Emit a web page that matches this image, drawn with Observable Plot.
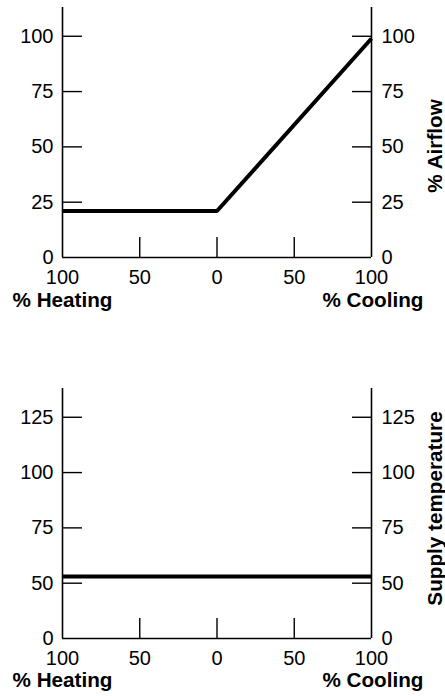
<!DOCTYPE html>
<html>
<head>
<meta charset="utf-8">
<script src="https://cdn.jsdelivr.net/npm/d3@7"></script>
<script src="https://cdn.jsdelivr.net/npm/@observablehq/plot@0.6"></script>
<style>
  html, body { margin: 0; padding: 0; background: #fff; }
  #wrap { position: relative; width: 445px; height: 696px; overflow: hidden; background: #fff; }
  #wrap svg { position: absolute; left: 0; display: block; }
</style>
</head>
<body>
<div id="wrap"></div>
<script>
// Signed x position: negative = % heating, positive = % cooling
const xTickValues = [-100, -50, 0, 50, 100];
const xTickMarks = [-50, 0, 50];
const heatingLabel = "% Heating";
const coolingLabel = "% Cooling";

// Top panel: % airflow
const airflowPos = [-100, 0, 100];
const airflowPct = [21, 21, 99];
const airflowTickLabels = [0, 25, 50, 75, 100];
const airflowTickMarks = [25, 50, 75, 100];
const airflowTitle = "% Airflow";

// Bottom panel: supply temperature (axis broken between 0 and 50)
const supplyPos = [-100, 100];
const supplyTemp = [53, 53];
const supplyTickLabels = [0, 50, 75, 100, 125];
const supplyTickMarks = [50, 75, 100, 125];
const supplyTitle = "Supply temperature";

const W = 445;
const font = "'Liberation Sans', Arial, Helvetica, sans-serif";
const tickFont = 20;
const titleFont = 20.7;

function panel({rows, yScale, tickLabels, tickMarks, title, height, mt, mb, titleDy}) {
  const ml = 62, mr = 74;
  return Plot.plot({
    width: W,
    height,
    marginTop: mt,
    marginBottom: mb,
    marginLeft: ml,
    marginRight: mr,
    style: {fontFamily: font, fontSize: tickFont + "px", color: "#000", background: "#fff", overflow: "visible"},
    x: {domain: [-100, 100]},
    y: yScale,
    marks: [
      // axis frame lines
      Plot.ruleX([-100, 100], {stroke: "#000", strokeWidth: 1.6}),
      Plot.ruleY([0], {stroke: "#000", strokeWidth: 1.6}),
      // inward ticks
      Plot.axisY(tickMarks, {anchor: "left", tickSize: -20, tickFormat: () => "", strokeWidth: 1.4, label: null}),
      Plot.axisY(tickMarks, {anchor: "right", tickSize: -20, tickFormat: () => "", strokeWidth: 1.4, label: null}),
      Plot.axisX(xTickMarks, {anchor: "bottom", tickSize: -20, tickFormat: () => "", strokeWidth: 1.4, label: null}),
      // tick labels
      Plot.axisY(tickLabels, {anchor: "left", tickSize: 0, tickPadding: 9, label: null, fill: "#000"}),
      Plot.axisY(tickLabels, {anchor: "right", tickSize: 0, tickPadding: 10, label: null, fill: "#000"}),
      Plot.axisX(xTickValues, {anchor: "bottom", tickSize: 0, tickPadding: 12, tickFormat: (d) => Math.abs(d), label: null, fill: "#000"}),
      // data line
      Plot.line(rows, {x: "pos", y: "val", stroke: "#000", strokeWidth: 4, strokeLinecap: "butt", strokeLinejoin: "miter"}),
      // titles
      Plot.text([heatingLabel], {frameAnchor: "bottom-left", textAnchor: "start", dx: -50, dy: titleDy, fontWeight: "bold", fontSize: titleFont, fill: "#000"}),
      Plot.text([coolingLabel], {frameAnchor: "bottom-right", textAnchor: "end", dx: 52, dy: titleDy, fontWeight: "bold", fontSize: titleFont, fill: "#000"}),
      Plot.text([title.text], {frameAnchor: "right", rotate: -90, textAnchor: "middle", dx: 64, dy: title.dy, fontWeight: "bold", fontSize: titleFont, fill: "#000"})
    ]
  });
}

const wrap = document.getElementById("wrap");

// Top panel
const h1 = 330, mt1 = 7, mb1 = 73;
const airRows = airflowPos.map((p, i) => ({pos: p, val: airflowPct[i]}));
const svg1 = panel({
  rows: airRows,
  yScale: {domain: [0, 113]},
  tickLabels: airflowTickLabels,
  tickMarks: airflowTickMarks,
  title: {text: airflowTitle, dy: 13.5},
  height: h1, mt: mt1, mb: mb1, titleDy: 49.5
});
svg1.style.top = "0px";
wrap.appendChild(svg1);

// Bottom panel: the printed axis is broken — the 0–50 stretch takes the same
// height as one 25-step above 50. The scale transform reproduces that break.
const h2 = 366, mt2 = 58, mb2 = 58;
const supRows = supplyPos.map((p, i) => ({pos: p, val: supplyTemp[i]}));
const brokenAxis = (v) => (v < 50 ? v / 2 : v - 25);
const svg2 = panel({
  rows: supRows,
  yScale: {transform: brokenAxis, domain: [0, 113]},
  tickLabels: supplyTickLabels,
  tickMarks: supplyTickMarks,
  title: {text: supplyTitle, dy: -5},
  height: h2, mt: mt2, mb: mb2, titleDy: 48.5
});
svg2.style.top = "330px";
wrap.appendChild(svg2);
</script>
</body>
</html>
